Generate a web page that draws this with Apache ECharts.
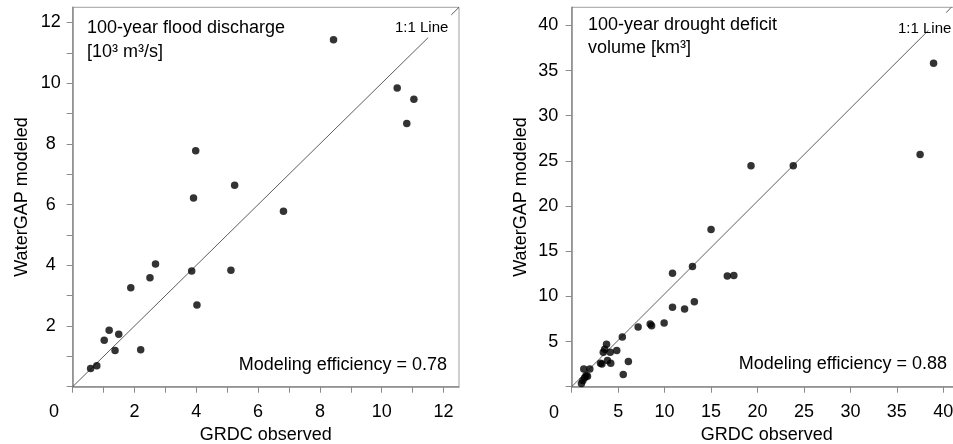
<!DOCTYPE html>
<html><head><meta charset="utf-8">
<script src="https://cdn.jsdelivr.net/npm/echarts@6/dist/echarts.min.js"></script>
<style>html,body{margin:0;padding:0;background:#fff}#c{width:953px;height:444px}</style>
</head><body><div id="c"></div>
<script>
// ---- data ----
const floodObserved = [0.58,0.78,1.02,1.18,1.37,1.49,1.88,2.20,2.50,2.68,3.85,3.91,3.98,4.02,5.12,5.24,6.82,8.44,10.50,10.81,11.04];
const floodModeled  = [0.60,0.69,1.53,1.86,1.19,1.73,3.26,1.22,3.59,4.04,3.81,6.22,7.77,2.69,3.84,6.64,5.78,11.43,9.84,8.67,9.47];
const droughtObserved = [1.05,1.2,1.4,1.55,1.7,1.3,1.95,3.1,3.25,3.4,3.55,3.75,3.85,4.15,4.2,4.85,5.45,5.55,6.1,7.15,8.45,8.6,9.95,10.85,10.85,12.15,13.0,13.2,15.0,16.75,17.45,19.3,23.85,37.5,38.95];
const droughtModeled  = [0.35,0.7,1.0,1.25,1.15,1.95,1.95,2.6,2.5,3.8,4.15,4.7,2.9,3.8,2.6,4.0,5.5,1.35,2.8,6.6,6.95,6.75,7.05,8.8,12.55,8.6,13.3,9.4,17.4,12.25,12.3,24.45,24.45,25.7,35.8];
// 1:1 line segments (gap left for the "1:1 Line" label)
const floodLineA = [[0,0],[11.5,11.5]];
const floodLineB = [[12.25,12.25],[12.5,12.5]];
const droughtLineA = [[0,0],[38.4,39.45]];
const droughtLineB = [[40.3,41.4],[40.85,42]];
// ticks / labels
const floodTicks = [0,1,2,3,4,5,6,7,8,9,10,11,12];
const floodLabels = [2,4,6,8,10,12];
const droughtTicks = [0,5,10,15,20,25,30,35,40];
const droughtLabels = [5,10,15,20,25,30,35,40];
const xName = 'GRDC observed';
const yName = 'WaterGAP modeled';
const floodTitle = ['100-year flood discharge', '[10³ m³/s]'];
const droughtTitle = ['100-year drought deficit', 'volume [km³]'];
const floodEff = 'Modeling efficiency = 0.78';
const droughtEff = 'Modeling efficiency = 0.88';
const lineLabel = '1:1 Line';

const FONT = 'Liberation Sans, Arial, Helvetica, sans-serif';
const axisGray = '#8a8a8a';

function xAxisCfg(gi, max, ticks, labels, interval) {
  return {
    type: 'value', gridIndex: gi, min: 0, max: max, interval: interval,
    name: xName, nameLocation: 'middle', nameGap: 34,
    nameTextStyle: {fontSize: 18, fontFamily: FONT, color: '#000'},
    axisLine: {show: true, onZero: false, lineStyle: {color: axisGray, width: 1.5}},
    axisTick: {show: true, inside: false, length: 6, customValues: ticks, lineStyle: {color: axisGray, width: 1}},
    axisLabel: {show: true, customValues: labels, margin: 16, fontSize: 18, fontFamily: FONT, color: '#000'},
    splitLine: {show: false}
  };
}
function yAxisCfg(gi, max, ticks, labels, interval, align, margin) {
  return {
    type: 'value', gridIndex: gi, min: 0, max: max, interval: interval,
    name: yName, nameLocation: 'middle', nameGap: 42,
    nameTextStyle: {fontSize: 18, fontFamily: FONT, color: '#000'},
    axisLine: {show: true, onZero: false, lineStyle: {color: axisGray, width: 1.5}},
    axisTick: {show: true, inside: false, length: 6, customValues: ticks, lineStyle: {color: axisGray, width: 1}},
    axisLabel: {show: true, customValues: labels, margin: margin, align: align, fontSize: 18, fontFamily: FONT, color: '#000'},
    splitLine: {show: false}
  };
}
function txt(pos, text, size) {
  return Object.assign({type: 'text', z: 100, style: {text: text, fontSize: size, fontFamily: FONT, fill: '#000'}}, pos);
}

const chart = echarts.init(document.getElementById('c'), null, {renderer: 'canvas'});
chart.setOption({
  animation: false,
  backgroundColor: '#fff',
  grid: [
    {left: 72.7, top: 7.3, width: 386.3, height: 379.4, show: true, borderColor: '#a0a0a0', borderWidth: 1, containLabel: false, outerBoundsMode: 'none'},
    {left: 571.7, top: 7.3, width: 390.2, height: 379.4, show: true, borderColor: '#a0a0a0', borderWidth: 1, containLabel: false, outerBoundsMode: 'none'}
  ],
  xAxis: [
    xAxisCfg(0, 12.5, floodTicks, floodLabels, 1),
    xAxisCfg(1, 42, droughtTicks, droughtLabels, 5)
  ],
  yAxis: [
    yAxisCfg(0, 12.5, floodTicks, floodLabels, 1, 'center', 22),
    yAxisCfg(1, 42, droughtTicks, droughtLabels, 5, 'right', 13.5)
  ],
  series: [
    {type: 'line', xAxisIndex: 0, yAxisIndex: 0, data: floodLineA, symbol: 'none', silent: true, lineStyle: {color: '#333', width: 0.8}, z: 2},
    {type: 'line', xAxisIndex: 0, yAxisIndex: 0, data: floodLineB, symbol: 'none', silent: true, lineStyle: {color: '#333', width: 0.8}, z: 2},
    {type: 'line', xAxisIndex: 1, yAxisIndex: 1, data: droughtLineA, symbol: 'none', silent: true, lineStyle: {color: '#333', width: 0.8}, z: 2},
    {type: 'line', xAxisIndex: 1, yAxisIndex: 1, data: droughtLineB, symbol: 'none', silent: true, lineStyle: {color: '#333', width: 0.8}, z: 2},
    {type: 'scatter', xAxisIndex: 0, yAxisIndex: 0, symbolSize: 7.5, itemStyle: {color: '#000'}, z: 5,
     data: floodObserved.map((v, i) => [v, floodModeled[i]])},
    {type: 'scatter', xAxisIndex: 1, yAxisIndex: 1, symbolSize: 7.5, itemStyle: {color: '#000'}, z: 5,
     data: droughtObserved.map((v, i) => [v, droughtModeled[i]])}
  ],
  graphic: [
    txt({left: 87, top: 19}, floodTitle[0], 18),
    txt({left: 87, top: 43}, floodTitle[1], 18),
    txt({left: 395, top: 20}, lineLabel, 15),
    txt({right: 506, top: 356}, floodEff, 18),
    txt({left: 49, top: 403}, '0', 18),
    txt({left: 549, top: 404}, '0', 18),
    txt({left: 588, top: 16}, droughtTitle[0], 18),
    txt({left: 588, top: 39}, droughtTitle[1], 18),
    txt({left: 898, top: 21}, lineLabel, 15),
    txt({right: 6, top: 355}, droughtEff, 18)
  ]
});
</script></body></html>
